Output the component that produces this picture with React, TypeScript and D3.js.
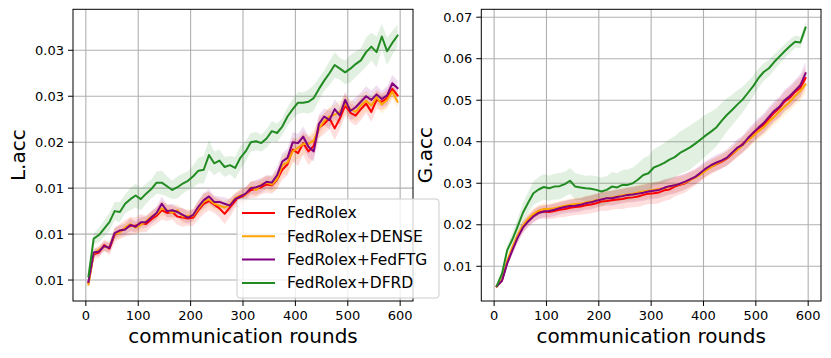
import React from "react";
import * as d3 from "d3";

// communication rounds (every 10 rounds, 5..595)
const rounds = d3.range(5, 600, 10);
const methods = ["FedRolex", "FedRolex+DENSE", "FedRolex+FedFTG", "FedRolex+DFRD"];
const colors = ["#ff0000", "#ffa500", "#800080", "#228b22"];

// all accuracy values below are in units of 1e-3
const UNIT = 1e-3;

// ---- L.acc (left panel) ----
const lRolex = [4.7, 7.8, 8.0, 8.8, 8.4, 9.9, 10.3, 10.6, 10.9, 10.9, 11.2, 11.1, 11.6, 12.0, 12.6, 12.3, 12.4, 11.9, 11.8, 11.7,
  11.8, 12.6, 13.3, 13.6, 13.2, 12.8, 12.2, 12.9, 13.6, 14.0, 14.3, 14.8, 14.9, 15.1, 15.4, 15.3, 15.9, 17.0, 17.6, 19.2,
  18.8, 19.9, 19.0, 19.6, 21.6, 22.0, 22.6, 21.5, 22.6, 24.0, 23.2, 22.9, 23.6, 24.2, 23.3, 24.6, 24.4, 24.8, 25.8, 25.1];
const lDense = [4.5, 7.9, 8.3, 8.6, 8.6, 10.0, 10.2, 10.7, 11.1, 10.7, 11.0, 11.4, 11.9, 12.2, 12.8, 12.6, 12.3, 12.6, 11.9, 12.0,
  12.0, 12.8, 13.5, 13.8, 13.3, 13.1, 12.9, 13.2, 13.9, 14.2, 14.3, 15.1, 14.8, 15.4, 15.6, 15.4, 16.0, 17.5, 17.8, 19.0,
  19.4, 19.8, 19.8, 20.2, 21.5, 22.3, 22.8, 23.0, 23.3, 24.2, 23.6, 23.3, 24.0, 24.5, 24.0, 24.9, 24.1, 24.6, 25.5, 24.4];
const lFedftg = [4.8, 8.0, 8.1, 8.7, 8.5, 10.1, 10.4, 10.5, 11.0, 10.8, 11.3, 11.3, 11.8, 12.3, 13.3, 12.5, 12.6, 12.4, 12.1, 11.8,
  12.1, 13.0, 13.7, 14.1, 13.5, 13.5, 13.3, 13.1, 13.8, 14.1, 14.4, 15.0, 15.1, 15.3, 15.7, 15.6, 16.4, 17.9, 18.3, 20.0,
  19.9, 20.6, 19.5, 19.0, 22.0, 22.8, 22.4, 23.6, 22.9, 24.6, 23.4, 23.8, 24.4, 25.0, 24.6, 25.2, 24.7, 25.1, 26.4, 25.9];
const lDfrd = [5.4, 9.5, 9.9, 10.6, 11.3, 12.5, 12.4, 13.3, 13.8, 14.2, 13.8, 14.4, 14.9, 15.6, 15.6, 15.2, 14.8, 15.1, 15.5, 15.8,
  16.3, 16.9, 17.0, 18.6, 17.7, 18.0, 17.3, 17.5, 17.2, 18.3, 19.0, 20.0, 20.1, 19.9, 20.4, 21.2, 21.0, 21.7, 22.8, 23.6,
  24.3, 24.3, 24.4, 24.8, 25.8, 26.7, 27.5, 28.4, 28.0, 27.6, 28.0, 28.5, 28.9, 29.8, 30.4, 29.8, 31.5, 29.9, 30.8, 31.6];

const lRolexStd = [0.3, 0.5, 0.6, 0.6, 0.7, 0.8, 0.8, 0.9, 1.0, 0.9, 1.0, 0.9, 0.8, 0.9, 1.0, 0.9, 0.8, 0.9, 1.0, 0.8,
  0.9, 1.0, 1.1, 1.0, 0.9, 1.0, 1.1, 1.0, 0.8, 0.9, 0.8, 0.9, 0.9, 0.8, 0.9, 0.9, 1.0, 1.1, 1.2, 1.3,
  1.4, 1.3, 1.5, 1.4, 1.2, 1.1, 1.2, 1.3, 1.2, 1.1, 1.0, 1.1, 1.2, 1.0, 1.1, 1.0, 0.9, 1.0, 0.9, 0.8];
const lDenseStd = [0.2, 0.4, 0.5, 0.5, 0.6, 0.6, 0.7, 0.6, 0.7, 0.6, 0.7, 0.6, 0.6, 0.7, 0.8, 0.7, 0.6, 0.7, 0.8, 0.7,
  0.7, 0.8, 0.9, 0.8, 0.7, 0.7, 0.8, 0.7, 0.6, 0.7, 0.7, 0.7, 0.8, 0.7, 0.8, 0.9, 1.0, 1.1, 1.2, 1.3,
  1.2, 1.1, 1.0, 1.1, 1.0, 0.9, 1.0, 1.1, 1.2, 1.1, 1.0, 1.1, 1.2, 1.1, 1.0, 0.9, 1.0, 0.9, 0.8, 0.7];
const lFedftgStd = [0.2, 0.4, 0.5, 0.5, 0.5, 0.6, 0.6, 0.6, 0.7, 0.6, 0.6, 0.6, 0.7, 0.7, 0.8, 0.7, 0.7, 0.6, 0.7, 0.7,
  0.6, 0.7, 0.8, 0.8, 0.7, 0.6, 0.7, 0.7, 0.6, 0.6, 0.7, 0.7, 0.8, 0.8, 0.7, 0.8, 0.9, 0.9, 1.0, 1.1,
  1.0, 1.1, 1.2, 1.1, 1.0, 0.9, 1.0, 1.1, 1.0, 0.9, 1.0, 1.1, 1.0, 1.1, 1.0, 1.0, 0.9, 1.0, 0.9, 0.8];
const lDfrdStd = [0.3, 0.6, 0.8, 0.9, 1.0, 1.0, 1.1, 1.0, 1.2, 1.3, 1.2, 1.1, 1.0, 1.2, 1.3, 1.1, 1.0, 1.2, 1.1, 1.0,
  1.2, 1.4, 1.5, 1.6, 1.3, 1.2, 1.1, 1.0, 1.2, 1.3, 1.1, 1.0, 1.0, 0.9, 1.0, 1.1, 1.0, 0.9, 1.0, 1.1,
  1.2, 1.1, 1.3, 1.4, 1.2, 1.1, 1.3, 1.4, 1.2, 1.3, 1.5, 1.4, 1.3, 1.6, 1.5, 1.7, 1.4, 1.5, 1.3, 1.2];

// ---- G.acc (right panel) ----
const gRolex = [5.2, 6.6, 11.0, 14.2, 17.1, 19.5, 21.0, 22.2, 23.0, 23.2, 23.1, 23.3, 23.6, 23.8, 24.1, 24.3, 24.4, 24.7, 24.9, 25.2,
  25.6, 25.7, 25.9, 26.1, 26.2, 26.5, 26.6, 26.8, 27.2, 27.5, 27.6, 27.8, 28.3, 28.5, 29.2, 29.6, 30.0, 30.8, 31.5, 32.3,
  33.3, 34.0, 34.6, 35.2, 36.0, 37.0, 38.2, 39.5, 40.6, 42.0, 43.2, 44.1, 45.6, 47.0, 48.1, 49.7, 50.6, 52.0, 53.0, 55.3];
const gDense = [5.1, 6.8, 11.4, 14.6, 17.5, 19.8, 21.4, 22.6, 23.4, 23.8, 23.8, 24.0, 24.3, 24.6, 24.8, 25.0, 25.1, 25.4, 25.6, 25.9,
  26.1, 26.4, 26.6, 26.8, 27.1, 27.3, 27.5, 27.8, 28.0, 28.2, 28.4, 28.6, 28.8, 29.2, 29.5, 29.8, 30.2, 30.8, 31.4, 32.2,
  33.1, 33.9, 34.7, 35.4, 36.1, 37.1, 38.0, 39.2, 40.3, 41.4, 42.5, 43.5, 44.8, 46.0, 47.3, 48.5, 49.6, 51.0, 52.2, 53.8];
const gFedftg = [5.2, 6.5, 10.7, 13.9, 16.9, 19.3, 20.8, 22.0, 22.8, 23.2, 23.3, 23.6, 24.0, 24.3, 24.5, 24.6, 24.8, 25.2, 25.4, 25.8,
  26.1, 26.4, 26.4, 26.7, 26.9, 27.2, 27.3, 27.5, 27.7, 28.0, 28.2, 28.4, 28.9, 29.3, 29.5, 29.9, 30.4, 31.0, 31.6, 32.6,
  33.6, 34.4, 35.0, 35.5, 36.2, 37.4, 38.6, 39.3, 40.9, 42.2, 43.4, 44.5, 46.0, 47.4, 48.4, 50.0, 51.0, 52.3, 53.6, 56.5];
const gDfrd = [5.3, 8.2, 13.9, 16.5, 19.6, 22.9, 25.3, 27.6, 28.5, 29.1, 28.8, 29.2, 29.3, 29.8, 30.6, 29.2, 29.0, 28.8, 28.7, 28.4,
  28.0, 28.4, 29.2, 29.0, 29.6, 29.6, 30.0, 30.9, 32.0, 32.4, 33.8, 34.3, 34.9, 35.7, 36.3, 37.3, 38.0, 38.7, 39.6, 40.6,
  41.6, 42.5, 43.5, 45.1, 46.5, 47.7, 49.0, 50.2, 51.8, 53.4, 55.3, 56.8, 57.7, 59.2, 60.5, 61.8, 63.0, 64.1, 63.9, 67.5];

const gRolexStd = [0.2, 0.5, 0.9, 1.1, 1.3, 1.4, 1.5, 1.6, 1.6, 1.7, 1.7, 1.8, 1.8, 1.9, 1.9, 2.0, 2.0, 2.1, 2.1, 2.2,
  2.2, 2.3, 2.3, 2.3, 2.4, 2.4, 2.4, 2.5, 2.5, 2.5, 2.6, 2.6, 2.6, 2.5, 2.4, 2.3, 2.2, 2.1, 2.0, 1.9,
  1.8, 1.8, 1.7, 1.7, 1.7, 1.8, 1.8, 1.9, 2.0, 2.0, 2.1, 2.2, 2.3, 2.3, 2.4, 2.4, 2.5, 2.5, 2.6, 2.6];
const gDenseStd = [0.2, 0.4, 0.7, 0.9, 1.0, 1.1, 1.2, 1.2, 1.3, 1.3, 1.3, 1.4, 1.4, 1.4, 1.5, 1.5, 1.5, 1.6, 1.6, 1.6,
  1.7, 1.7, 1.7, 1.8, 1.8, 1.8, 1.8, 1.9, 1.9, 1.9, 1.9, 1.9, 1.8, 1.8, 1.7, 1.7, 1.6, 1.6, 1.5, 1.5,
  1.5, 1.5, 1.6, 1.6, 1.7, 1.7, 1.8, 1.8, 1.9, 1.9, 2.0, 2.0, 2.1, 2.1, 2.2, 2.2, 2.2, 2.3, 2.3, 2.3];
const gFedftgStd = [0.2, 0.5, 0.8, 1.0, 1.2, 1.3, 1.3, 1.4, 1.4, 1.4, 1.5, 1.5, 1.5, 1.5, 1.6, 1.6, 1.6, 1.6, 1.7, 1.7,
  1.7, 1.7, 1.8, 1.8, 1.8, 1.8, 1.9, 1.9, 1.9, 1.9, 2.0, 2.0, 2.0, 2.0, 2.0, 1.9, 1.9, 1.8, 1.8, 1.8,
  1.8, 1.8, 1.9, 1.9, 2.0, 2.0, 2.1, 2.1, 2.2, 2.2, 2.3, 2.3, 2.4, 2.4, 2.5, 2.5, 2.6, 2.6, 2.7, 2.7];
const gDfrdStd = [0.2, 0.6, 1.2, 1.6, 2.0, 2.4, 2.6, 2.8, 3.0, 3.1, 3.0, 3.1, 3.2, 3.0, 3.1, 3.2, 3.1, 3.0, 3.2, 3.3,
  3.4, 3.3, 3.5, 3.4, 3.6, 3.7, 3.8, 3.9, 4.0, 4.2, 4.4, 4.6, 4.8, 4.9, 5.0, 5.1, 5.2, 5.3, 5.2, 5.1,
  5.0, 4.8, 4.6, 4.3, 4.0, 3.7, 3.4, 3.1, 2.8, 2.5, 2.3, 2.1, 2.0, 1.9, 1.8, 1.7, 1.6, 1.5, 1.4, 1.3];

const xTicks = [0, 100, 200, 300, 400, 500, 600];
const lYTicks = [0.005, 0.01, 0.015, 0.02, 0.025, 0.03];
const gYTicks = [0.01, 0.02, 0.03, 0.04, 0.05, 0.06, 0.07];

const FONT = "DejaVu Sans, sans-serif";

type Series = { mean: number[]; std: number[] };

const Panel = ({ left, right, top, bottom, yDomain, yTicks, ylabel, ylabelX, series }: {
  left: number; right: number; top: number; bottom: number;
  yDomain: [number, number]; yTicks: number[]; ylabel: string; ylabelX: number; series: Series[];
}) => {
  const x = d3.scaleLinear().domain([-24.5, 624.5]).range([left, right]);
  const y = d3.scaleLinear().domain(yDomain).range([bottom, top]);
  const fmt = d3.format(".2f");

  const line = d3.line<number>()
    .x((_, i) => x(rounds[i]))
    .y((d) => y(d * UNIT));

  return (
    <g>
      {/* grid */}
      {xTicks.map((t) => (
        <line key={"gx" + t} x1={x(t)} x2={x(t)} y1={top} y2={bottom} stroke="#b0b0b0" strokeWidth={1.1} />
      ))}
      {yTicks.map((t) => (
        <line key={"gy" + t} x1={left} x2={right} y1={y(t)} y2={y(t)} stroke="#b0b0b0" strokeWidth={1.1} />
      ))}
      {/* std bands */}
      {series.map((s, k) => {
        const area = d3.area<number>()
          .x((_, i) => x(rounds[i]))
          .y0((d, i) => y((d - s.std[i]) * UNIT))
          .y1((d, i) => y((d + s.std[i]) * UNIT));
        return <path key={"a" + k} d={area(s.mean) || ""} fill={colors[k]} fillOpacity={0.13} stroke="none" />;
      })}
      {/* mean lines */}
      {series.map((s, k) => (
        <path key={"l" + k} d={line(s.mean) || ""} fill="none" stroke={colors[k]} strokeWidth={2}
          strokeLinejoin="round" strokeLinecap="square" />
      ))}
      {/* frame */}
      <rect x={left} y={top} width={right - left} height={bottom - top} fill="none" stroke="#000" strokeWidth={1} />
      {/* x axis */}
      {xTicks.map((t) => (
        <g key={"tx" + t}>
          <line x1={x(t)} x2={x(t)} y1={bottom} y2={bottom + 5} stroke="#000" />
          <text x={x(t)} y={bottom + 19} textAnchor="middle" fontSize={13} fontFamily={FONT}>{t}</text>
        </g>
      ))}
      {/* y axis */}
      {yTicks.map((t) => (
        <g key={"ty" + t}>
          <line x1={left - 5} x2={left} y1={y(t)} y2={y(t)} stroke="#000" />
          <text x={left - 9} y={y(t)} dy="0.35em" textAnchor="end" fontSize={13} fontFamily={FONT}>{fmt(t)}</text>
        </g>
      ))}
      <text x={(left + right) / 2} y={343} textAnchor="middle" fontSize={20} fontFamily={FONT}>communication rounds</text>
      <text transform={`translate(${ylabelX},${(top + bottom) / 2}) rotate(-90)`} textAnchor="middle"
        dy="0.35em" fontSize={20} fontFamily={FONT}>{ylabel}</text>
    </g>
  );
};

const Legend = ({ x0, y0 }: { x0: number; y0: number }) => (
  <g>
    <rect x={x0} y={y0} width={202} height={99} rx={3} fill="#fff" fillOpacity={0.8} stroke="#cccccc" />
    {methods.map((m, i) => {
      const cy = y0 + 14 + i * 23.3;
      return (
        <g key={m}>
          <line x1={x0 + 5} x2={x0 + 38} y1={cy} y2={cy} stroke={colors[i]} strokeWidth={2} />
          <text x={x0 + 50} y={cy} dy="0.35em" fontSize={15.5} fontFamily={FONT}>{m}</text>
        </g>
      );
    })}
  </g>
);

export default function App() {
  const lSeries: Series[] = [
    { mean: lRolex, std: lRolexStd },
    { mean: lDense, std: lDenseStd },
    { mean: lFedftg, std: lFedftgStd },
    { mean: lDfrd, std: lDfrdStd },
  ];
  const gSeries: Series[] = [
    { mean: gRolex, std: gRolexStd },
    { mean: gDense, std: gDenseStd },
    { mean: gFedftg, std: gFedftgStd },
    { mean: gDfrd, std: gDfrdStd },
  ];
  return (
    <svg width={831} height={358} style={{ position: "absolute", left: 0, top: 0, background: "#fff" }}>
      <Panel left={73} right={413} top={9.3} bottom={301} yDomain={[0.00272, 0.03446]} yTicks={lYTicks}
        ylabel="L.acc" ylabelX={18} series={lSeries} />
      <Panel left={481.3} right={821} top={9.3} bottom={301} yDomain={[0.00164, 0.0719]} yTicks={gYTicks}
        ylabel="G.acc" ylabelX={425} series={gSeries} />
      <Legend x0={237} y0={199} />
    </svg>
  );
}
